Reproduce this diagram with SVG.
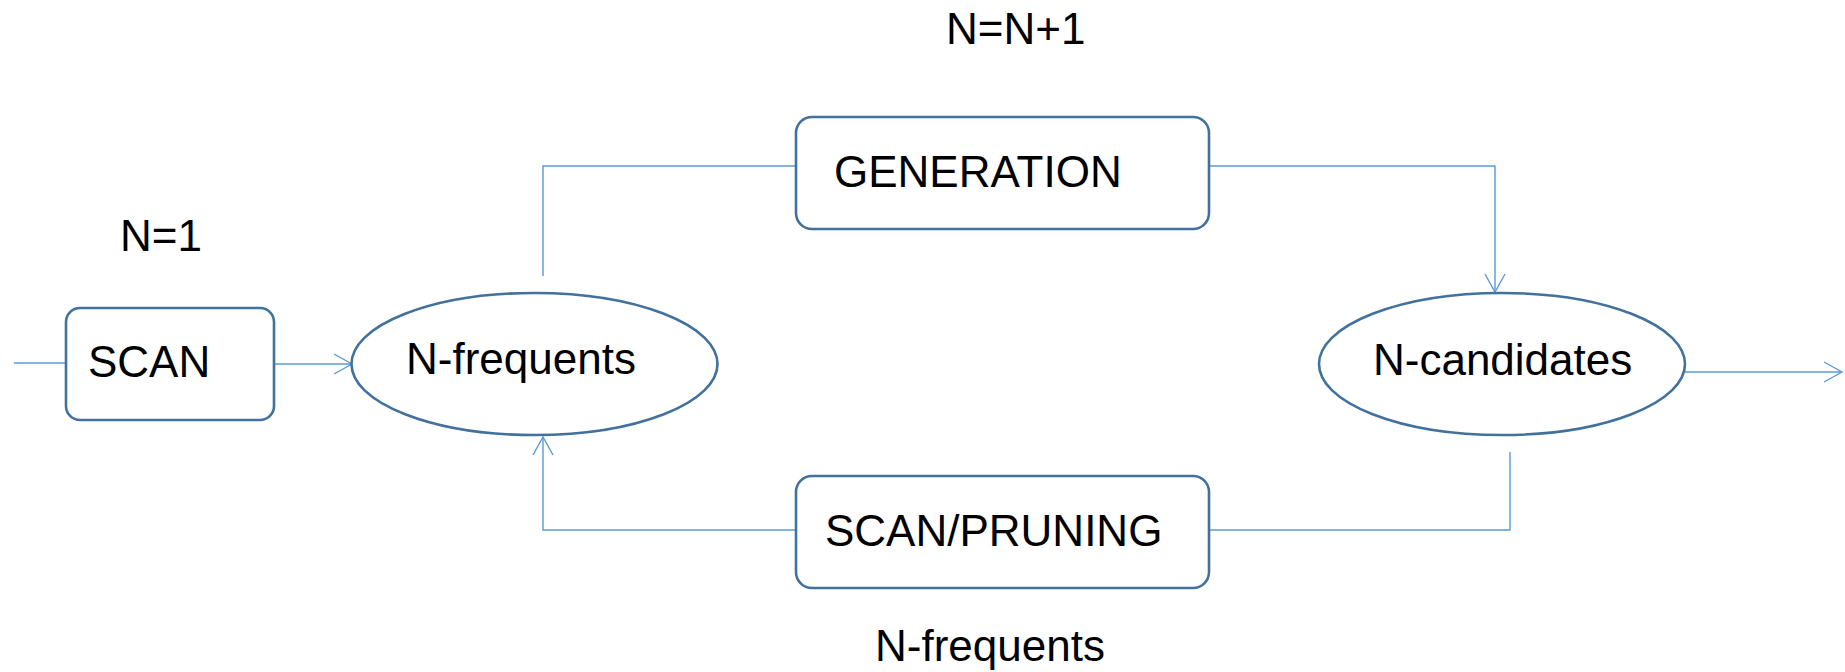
<svg xmlns="http://www.w3.org/2000/svg" width="1845" height="672" viewBox="0 0 1845 672">
<style>
.node{fill:#fff;stroke:#41719C;stroke-width:2.6}
.lbl{font-family:"Liberation Sans",Arial,sans-serif;font-size:44px;fill:#000}
.conn{fill:none;stroke:#5B9BD5;stroke-width:1.4}
.head{fill:none;stroke:#5B9BD5;stroke-width:1.4}
</style>
<rect width="1845" height="672" fill="#fff"/>
<g id="connectors">
<line class="conn" x1="14" y1="363" x2="66" y2="363"/>
<line class="conn" x1="274" y1="364" x2="352" y2="364"/>
<path class="head" d="M334,354 L352,364 L334,374"/>
<polyline class="conn" points="543,276 543,166 796,166"/>
<polyline class="conn" points="1209,166 1495,166 1495,292"/>
<path class="head" d="M1485,274 L1495,292 L1505,274"/>
<line class="conn" x1="1685" y1="372" x2="1842" y2="372"/>
<path class="head" d="M1824,362 L1842,372 L1824,382"/>
<polyline class="conn" points="1510,452 1510,530 1209,530"/>
<polyline class="conn" points="796,530 543,530 543,437"/>
<path class="head" d="M533,455 L543,437 L553,455"/>
</g>
<g id="label-n1"><text class="lbl" x="120" y="251">N=1</text></g>
<g id="label-nn1"><text class="lbl" x="946" y="44">N=N+1</text></g>
<g id="label-nfreq-bottom"><text class="lbl" x="875" y="661">N-frequents</text></g>
<g id="scan">
<rect class="node" x="66" y="308" width="208" height="112" rx="14"/>
<text class="lbl" x="88" y="377">SCAN</text>
</g>
<g id="n-frequents">
<ellipse class="node" cx="534.5" cy="364" rx="183" ry="71"/>
<text class="lbl" x="406" y="374">N-frequents</text>
</g>
<g id="generation">
<rect class="node" x="796" y="117" width="413" height="112" rx="16"/>
<text class="lbl" x="834" y="187">GENERATION</text>
</g>
<g id="n-candidates">
<ellipse class="node" cx="1502" cy="364" rx="183" ry="71"/>
<text class="lbl" x="1373" y="375">N-candidates</text>
</g>
<g id="scan-pruning">
<rect class="node" x="796" y="476" width="413" height="112" rx="16"/>
<text class="lbl" x="825" y="546">SCAN/PRUNING</text>
</g>
</svg>
